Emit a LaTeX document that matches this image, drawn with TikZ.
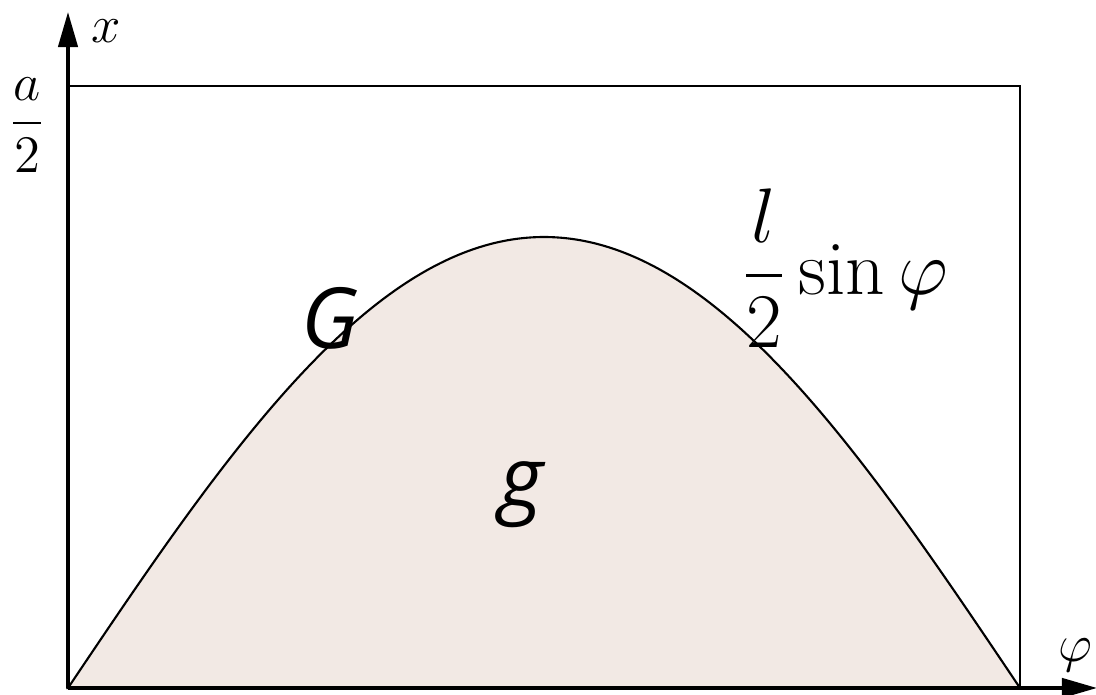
\documentclass[tikz,border=0pt]{standalone}
\usepackage{fix-cm}
\usepackage{amsmath}
\usepackage{fontspec}
\newfontfamily\labelfont{Open Sans}
\usetikzlibrary{arrows.meta}
\definecolor{areafill}{RGB}{242,233,228}

\begin{document}
\begin{tikzpicture}[x=0.01cm,y=-0.01cm,
  axis/.style={line width=1pt,-{Triangle[length=10pt,width=5.5pt]}},
  box/.style={line width=0.6pt},
  region/.style={font=\labelfont\itshape\fontsize{24}{28}\selectfont},
  mathlabel/.style={font=\fontsize{15}{18}\selectfont}]
\useasboundingbox (0,0) rectangle (1096,695);

\coordinate (O) at (68,688);
\coordinate (xtip) at (68,12);
\coordinate (phitip) at (1097,688);
\coordinate (TL) at (68,86);
\coordinate (TR) at (1020,86);
\coordinate (BR) at (1020,688);

% area under the curve
\draw[line width=0.6pt, fill=areafill]
  plot[domain=0:180, samples=120, smooth] ({68+5.28889*\x},{688-451*sin(\x)}) -- cycle;

% the box
\draw[box] (O) -- (TL) -- (TR) -- (BR);

% axes
\draw[axis] (O) -- (xtip);
\draw[axis] (O) -- (phitip);

\node[mathlabel] (xlab) at (106,31) {$x$};
\node[mathlabel] (philab) at (1075,655) {$\varphi$};
\node[mathlabel] (half) at (27,125) {$\dfrac{a}{2}$};
\node[font=\fontsize{22}{26}\selectfont] (curvelab) at (845,268) {$\dfrac{l}{2}\sin\varphi$};

\node[region] (G) at (330,318) {G};
\node[region] (g) at (521,495) {g};
\end{tikzpicture}
\end{document}
